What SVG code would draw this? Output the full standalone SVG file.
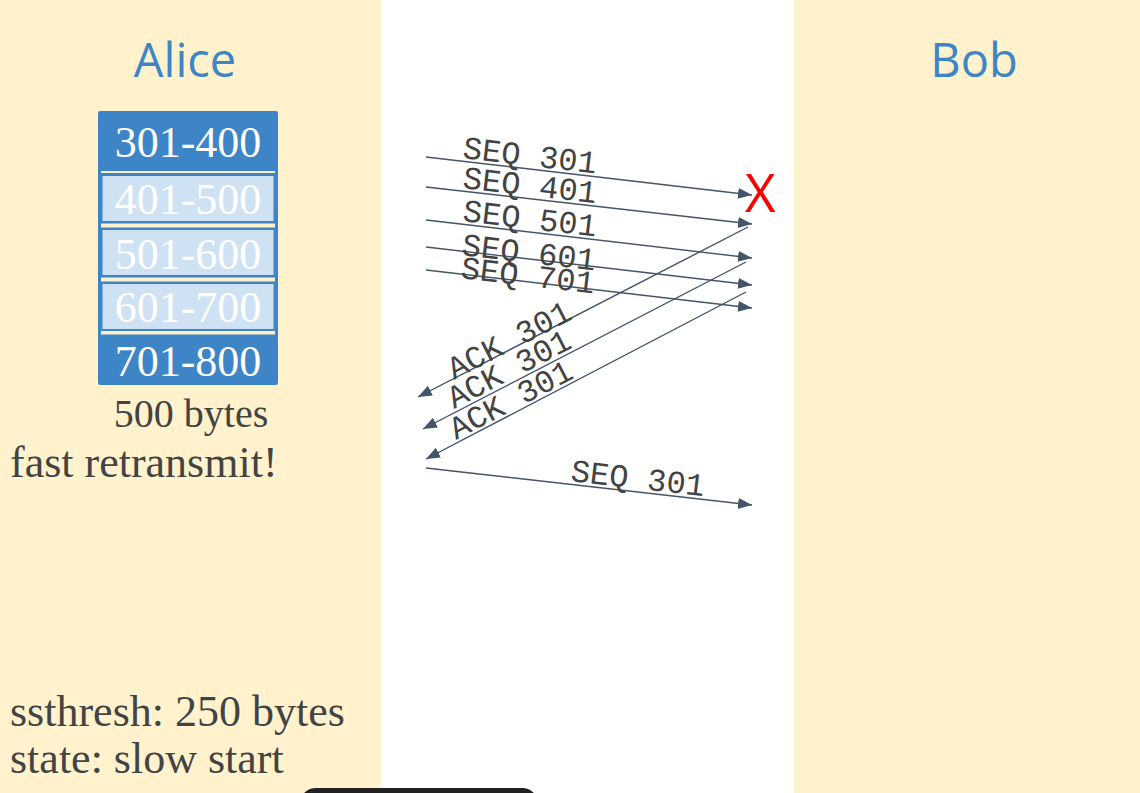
<svg xmlns="http://www.w3.org/2000/svg" width="1140" height="793" viewBox="0 0 1140 793">
<style>
.lane{fill:#FFF2CC}
.name{font-family:"Open Sans",sans-serif;font-size:47px;fill:#3D85C6;text-anchor:middle}
.seg{font-family:"Liberation Serif",serif;font-size:44px;fill:#FFFFFF;text-anchor:middle}
.note{font-family:"Liberation Serif",serif;font-size:44px;fill:#434343}
.lbl{font-family:"Liberation Mono",monospace;font-size:32px;fill:#434343}
.arr{stroke:#44546A;stroke-width:1.4;fill:none;marker-end:url(#ah)}
.light{fill:#CFE2F3}
.gap{fill:#FFF2CC}
</style>
<defs>
<marker id="ah" markerUnits="userSpaceOnUse" markerWidth="15" markerHeight="12" refX="14" refY="5.5" orient="auto">
<path d="M0,0 L14,5.5 L0,11 z" fill="#44546A"/>
</marker>
</defs>
<rect x="0" y="0" width="1140" height="793" fill="#FFFFFF"/>
<rect class="lane" x="0" y="0" width="381" height="793"/>
<rect class="lane" x="794" y="0" width="346" height="793"/>
<g id="alice"><text class="name" x="185" y="77">Alice</text></g>
<g id="bob"><text class="name" x="974" y="77">Bob</text></g>
<g id="window">
<rect x="98" y="111" width="180" height="274" rx="2" fill="#3D85C6"/>
<rect class="gap" x="101" y="171" width="174" height="2"/>
<rect class="gap" x="101" y="223.5" width="174" height="4"/>
<rect class="gap" x="101" y="277.5" width="174" height="4"/>
<rect class="gap" x="101" y="331" width="174" height="3.5"/>
<rect class="light" x="102.5" y="176" width="171" height="45"/>
<rect class="light" x="102.5" y="230" width="171" height="45"/>
<rect class="light" x="102.5" y="284" width="171" height="45"/>
<text class="seg" x="188" y="157">301-400</text>
<text class="seg" x="188" y="214">401-500</text>
<text class="seg" x="188" y="269">501-600</text>
<text class="seg" x="188" y="322">601-700</text>
<text class="seg" x="188" y="376">701-800</text>
</g>
<g id="notes">
<text class="note" x="191" y="427" text-anchor="middle" style="font-size:40px">500 bytes</text>
<text class="note" x="10" y="477">fast retransmit!</text>
<text class="note" x="10" y="726">ssthresh: 250 bytes</text>
<text class="note" x="10" y="773">state: slow start</text>
</g>
<g id="connectors">
<line class="arr" x1="426" y1="157" x2="752" y2="195"/>
<line class="arr" x1="426" y1="187" x2="752" y2="224"/>
<line class="arr" x1="426" y1="220" x2="752" y2="258"/>
<line class="arr" x1="426" y1="247" x2="752" y2="285"/>
<line class="arr" x1="426" y1="270" x2="752" y2="308"/>
<line class="arr" x1="748" y1="227" x2="418" y2="397"/>
<line class="arr" x1="746" y1="262" x2="423" y2="429"/>
<line class="arr" x1="746" y1="292" x2="426" y2="459"/>
<line class="arr" x1="426" y1="468" x2="752" y2="505"/>
</g>
<g id="labels">
<text class="lbl" transform="translate(462 158) rotate(6.65)">SEQ 301</text>
<text class="lbl" transform="translate(462 188) rotate(6.5)">SEQ 401</text>
<text class="lbl" transform="translate(462 221) rotate(6.65)">SEQ 501</text>
<text class="lbl" transform="translate(461 255) rotate(6.65)">SEQ 601</text>
<text class="lbl" transform="translate(460 278) rotate(6.65)">SEQ 701</text>
<text class="lbl" transform="translate(454 380) rotate(-27.2)">ACK 301</text>
<text class="lbl" transform="translate(454 409) rotate(-27.4)">ACK 301</text>
<text class="lbl" transform="translate(456 440) rotate(-27.6)">ACK 301</text>
<text class="lbl" transform="translate(570 481) rotate(6.5)">SEQ 301</text>
</g>
<g id="loss"><text x="745" y="212" style="font-family:'Open Sans',sans-serif;font-size:53px;fill:#FF0000">X</text></g>
<rect x="300" y="788" width="238" height="30" rx="16" fill="#212121"/>
</svg>
